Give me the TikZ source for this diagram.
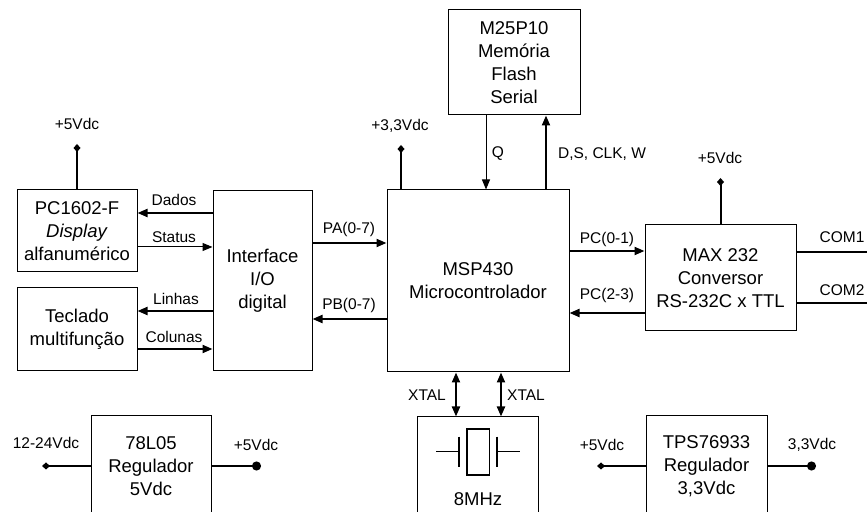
\documentclass[tikz,border=0pt]{standalone}
\usepackage{fontspec}
\setmainfont{Liberation Sans}
\usepackage{tikz}
\usetikzlibrary{arrows.meta}

\begin{document}
\begin{tikzpicture}[
    x=0.5pt, y=-0.5pt,
    every node/.style={font=\fontsize{7.75}{9}\selectfont},
    box/.style={rectangle, draw, line width=0.5pt, align=center, inner sep=0pt, font=\fontsize{9.25}{11.5}\selectfont},
    bus/.style={->, >={Triangle[length=5pt, width=4pt]}, line width=1pt},
    wire/.style={->, >={Triangle[length=5pt, width=4pt]}, line width=0.5pt},
    supply/.style={-{Diamond[length=4pt, width=3.5pt]}, line width=1pt},
    output/.style={-{Circle[length=4.5pt]}, line width=1pt},
    xtalline/.style={line width=0.8pt}
  ]
    \useasboundingbox (0,0) rectangle (867,512);
    \clip (0,0) rectangle (867,512);

    % Left side: display and keypad
    \node[box, minimum width=60pt, minimum height=41pt] (lcd) at (77,231) {PC1602-F\\\textit{Display}\\alfanumérico};
    \node[box, minimum width=60pt, minimum height=41.5pt] (kbd) at (77,329.5) {Teclado\\multifunção};
    \node[box, minimum width=49.5pt, minimum height=90pt] (io) at (262.5,281) {Interface\\I/O\\digital};

    % Centre: microcontroller and memory
    \node[box, minimum width=91pt, minimum height=91pt] (mcu) at (478,281) {MSP430\\Microcontrolador};
    \node[box, minimum width=66pt, minimum height=52.5pt] (flash) at (514,62.5) {M25P10\\Memória\\Flash\\Serial};

    % Right side: serial converter
    \node[box, minimum width=75.5pt, minimum height=53pt] (max) at (720.5,278) {MAX 232\\Conversor\\RS-232C x TTL};

    % Bottom row: regulators and crystal
    \node[box, minimum width=60pt, minimum height=50pt] (reg5) at (151,466) {78L05\\Regulador\\5Vdc};
    \node[box, minimum width=60.5pt, minimum height=50pt] (xtal) at (477.5,467) {};
    \node[box, draw=none] (freq) at (478,499) {8MHz};
    \node[box, minimum width=60.5pt, minimum height=50pt] (reg33) at (706.5,466) {TPS76933\\Regulador\\3,3Vdc};

    % Crystal symbol
    \draw[xtalline] (436,451.7) -- (459,451.7);
    \draw[xtalline] (459,436.7) -- (459,467.3);
    \draw[xtalline] (466.7,429) rectangle (489.3,475);
    \draw[xtalline] (496.7,436.7) -- (496.7,467.3);
    \draw[xtalline] (496.7,451.7) -- (520,451.7);

    % Supply points
    \coordinate (plcd) at (77,144);
    \coordinate (pmcu) at (401,145);
    \coordinate (pmax) at (720.5,178);
    \coordinate (pin5) at (42,466);
    \coordinate (pout5) at (261,466);
    \coordinate (pin33) at (597,466);
    \coordinate (pout33) at (816,466);
    \coordinate (pcom1) at (870,252);
    \coordinate (pcom2) at (870,303);

    % Labels
    \node (vlcd) at (77,124) {+5Vdc};
    \node (vmcu) at (400,126) {+3,3Vdc};
    \node (vmax) at (720,158) {+5Vdc};
    \node (ldados) at (174,200) {Dados};
    \node (lstatus) at (174,237) {Status};
    \node (llinhas) at (176,299) {Linhas};
    \node (lcolunas) at (174,337) {Colunas};
    \node (lpa) at (349,229) {PA(0-7)};
    \node (lpb) at (349,305) {PB(0-7)};
    \node (lq) at (498,154) {Q};
    \node[anchor=west] (lds) at (551,154) {D,S, CLK, W};
    \node (lpc01) at (607,239) {PC(0-1)};
    \node (lpc23) at (607,295) {PC(2-3)};
    \node (lcom1) at (842,237) {COM1};
    \node (lcom2) at (842,290) {COM2};
    \node (lx1) at (427,395) {XTAL};
    \node (lx2) at (526,395) {XTAL};
    \node (vin) at (46,443) {12-24Vdc};
    \node (v5out) at (256,445) {+5Vdc};
    \node (v5in) at (602,445) {+5Vdc};
    \node (v33out) at (812,445) {3,3Vdc};

    % Connections
    \draw[supply] (lcd.north) -- (plcd);
    \draw[supply] (pmcu |- mcu.north) -- (pmcu);
    \draw[supply] (max.north) -- (pmax);
    \draw[bus] (io.west |- 0,213) -- (lcd.east |- 0,213);
    \draw[wire] (lcd.east |- 0,247) -- (io.west |- 0,247);
    \draw[bus] (io.west |- 0,311) -- (kbd.east |- 0,311);
    \draw[bus] (kbd.east |- 0,349) -- (io.west |- 0,349);
    \draw[bus] (io.east |- 0,243) -- (mcu.west |- 0,243);
    \draw[bus] (mcu.west |- 0,319) -- (io.east |- 0,319);
    \draw[wire] (flash.south -| 486,0) -- (mcu.north -| 486,0);
    \draw[bus] (mcu.north -| 546,0) -- (flash.south -| 546,0);
    \draw[bus] (mcu.east |- 0,251) -- (max.west |- 0,251);
    \draw[bus] (max.west |- 0,313) -- (mcu.east |- 0,313);
    \draw[line width=1pt] (max.east |- pcom1) -- (pcom1);
    \draw[line width=1pt] (max.east |- pcom2) -- (pcom2);
    \draw[bus, <->] (mcu.south -| 456,0) -- (xtal.north -| 456,0);
    \draw[bus, <->] (mcu.south -| 501,0) -- (xtal.north -| 501,0);
    \draw[supply] (reg5.west) -- (pin5);
    \draw[output] (reg5.east) -- (pout5);
    \draw[supply] (reg33.west) -- (pin33);
    \draw[output] (reg33.east) -- (pout33);

  \end{tikzpicture}
\end{document}
